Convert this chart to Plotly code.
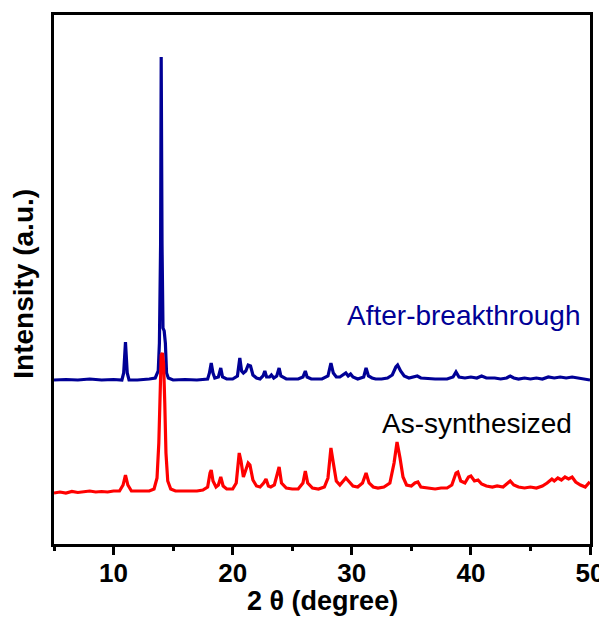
import plotly.graph_objects as go

# ---- data (2θ in degrees, intensity in arbitrary units) ----
after_x = [5.0, 6.0, 7.0, 8.0, 9.0, 10.0, 10.7, 10.85, 11.0, 11.15, 11.3, 12.0, 13.0, 13.5,
           13.75, 13.85, 13.95, 14.0, 14.07, 14.15, 14.25, 14.35, 14.45, 14.6, 15.0, 16.0,
           17.0, 17.9, 18.05, 18.2, 18.35, 18.5, 18.8, 19.0, 19.15, 19.5, 20.0, 20.4, 20.6,
           20.75, 20.9, 21.1, 21.3, 21.5, 21.7, 22.0, 22.3, 22.55, 22.7, 22.85, 23.1, 23.25,
           23.45, 23.7, 23.9, 24.05, 24.5, 25.0, 25.5, 25.9, 26.1, 26.25, 26.6, 27.0, 27.5,
           28.0, 28.25, 28.45, 28.7, 29.0, 29.3, 29.5, 29.7, 29.9, 30.1, 30.5, 31.0, 31.2,
           31.4, 31.7, 32.0, 32.5, 33.0, 33.4, 33.7, 33.85, 34.1, 34.4, 34.8, 35.2, 35.5,
           35.8, 36.5, 37.0, 37.5, 38.0, 38.5, 38.75, 39.0, 39.5, 40.0, 40.5, 40.9, 41.3,
           42.0, 42.5, 43.0, 43.3, 43.6, 44.0, 44.5, 45.0, 45.5, 46.0, 46.5, 47.0, 47.5,
           48.0, 48.5, 49.0, 49.5, 50.0]
after_y = [164, 164.5, 164, 165, 164, 164.5, 164, 171, 202, 171, 164, 164, 165, 166,
           173, 201, 300, 487, 300, 216, 213, 201, 171, 166, 164, 164.5,
           164, 165, 171, 181, 171, 166, 167, 176, 167, 165, 165, 168, 186,
           173, 171, 173, 179, 178, 169, 166, 165, 168, 173, 167, 167, 169,
           166, 168, 176, 168, 165, 165, 165, 167, 173, 167, 165, 165, 165,
           168, 181, 171, 167, 167, 169, 171, 168, 170, 167, 165, 167, 176,
           168, 166, 165, 165, 166, 169, 177, 179, 173, 168, 166, 167, 168,
           166, 165, 165, 165, 165, 167, 172, 167, 166, 167, 166, 168, 166,
           166, 165, 166, 168, 166, 165, 166, 165, 166, 165, 167, 166, 167,
           166, 167, 166, 165, 164]

as_x = [5.0, 5.5, 6.0, 6.5, 7.0, 7.5, 8.0, 8.5, 9.0, 9.5, 10.0, 10.5, 10.8, 11.0, 11.2,
        11.5, 12.0, 12.5, 13.0, 13.4, 13.65, 13.8, 13.9, 14.0, 14.1, 14.2, 14.3, 14.4,
        14.55, 14.8, 15.2, 16.0, 16.5, 17.0, 17.5, 17.9, 18.1, 18.2, 18.35, 18.6, 18.8,
        19.0, 19.2, 19.5, 20.0, 20.3, 20.55, 20.7, 20.9, 21.1, 21.3, 21.45, 21.7, 22.0,
        22.3, 22.6, 22.8, 23.0, 23.2, 23.5, 23.75, 23.9, 24.1, 24.5, 25.0, 25.5, 25.9,
        26.1, 26.3, 26.7, 27.2, 27.7, 28.0, 28.25, 28.45, 28.7, 29.0, 29.3, 29.5, 29.8,
        30.1, 30.5, 30.9, 31.2, 31.45, 31.8, 32.2, 32.7, 33.2, 33.55, 33.8, 34.05, 34.3,
        34.6, 35.0, 35.3, 35.55, 35.8, 36.3, 37.0, 37.5, 38.0, 38.4, 38.75, 38.9, 39.15,
        39.5, 39.8, 40.0, 40.3, 40.6, 40.9, 41.3, 41.8, 42.2, 42.7, 43.0, 43.3, 43.6,
        44.0, 44.5, 45.0, 45.5, 46.0, 46.4, 46.8, 47.0, 47.3, 47.6, 47.9, 48.2, 48.5,
        48.8, 49.2, 49.6, 49.9, 50.0]
as_y = [51, 52, 51, 52.5, 51.5, 52, 53, 52, 52.5, 52, 53, 53, 59, 69, 59,
        53, 53, 52.5, 53, 55, 66, 101, 161, 189, 191, 181, 141, 91,
        63, 55, 53, 53, 52.5, 53, 54, 57, 71, 74, 63, 57, 59,
        67, 58, 55, 55, 61, 91, 83, 67, 73, 81, 79, 64, 58,
        57, 61, 65, 58, 57, 59, 69, 77, 61, 56, 55, 55, 61,
        73, 61, 56, 55, 57, 66, 96, 81, 63, 59, 63, 66, 62,
        58, 57, 61, 71, 61, 57, 56, 57, 61, 81, 102, 86, 67,
        59, 58, 61, 62, 57, 56, 55, 56, 56, 59, 71, 72, 63,
        61, 67, 68, 63, 64, 60, 58, 57, 58, 57, 60, 63, 59,
        57, 56, 57, 56, 58, 61, 65, 63, 66, 64, 67, 65, 67,
        62, 59, 57, 61, 60]

x_ticks = [10, 20, 30, 40, 50]
x_minor = [5, 15, 25, 35, 45]
labels = ["After-breakthrough", "As-synthesized"]
colors = ["#000096", "#FF0000"]
x_title = "2 θ (degree)"
y_title = "Intensity (a.u.)"
FONT = "Liberation Sans, Arial"

fig = go.Figure()
fig.add_trace(go.Scatter(x=after_x, y=after_y, mode="lines", name=labels[0],
                         line=dict(color=colors[0], width=3.2)))
fig.add_trace(go.Scatter(x=as_x, y=as_y, mode="lines", name=labels[1],
                         line=dict(color=colors[1], width=3.2)))

fig.add_annotation(x=39.35, y=229, xref="x", yref="y", text=labels[0], showarrow=False,
                   font=dict(family=FONT, size=28, color=colors[0]),
                   xanchor="center", yanchor="middle")
fig.add_annotation(x=40.55, y=121, xref="x", yref="y", text=labels[1], showarrow=False,
                   font=dict(family=FONT, size=28, color="black"),
                   xanchor="center", yanchor="middle")
# axis titles
fig.add_annotation(x=0.5, y=-0.108, xref="paper", yref="paper", text=x_title, showarrow=False,
                   font=dict(family=FONT, size=27, weight="bold", color="black"),
                   xanchor="center", yanchor="middle")
fig.add_annotation(x=-0.0575, y=0.4924, xref="paper", yref="paper", text=y_title, showarrow=False,
                   textangle=-90,
                   font=dict(family=FONT, size=28, weight="bold", color="black"),
                   xanchor="center", yanchor="middle")

# the page puts the figure 8 px in from the top-left corner
fig.update_layout(
    width=599, height=614,
    margin=dict(l=46, r=17, t=7, b=78, autoexpand=False),
    plot_bgcolor="white", paper_bgcolor="white",
    showlegend=False,
    font=dict(family=FONT, color="black"),
)
fig.update_xaxes(
    range=[5, 50], tickvals=x_ticks, ticktext=[str(v) for v in x_ticks],
    showgrid=False, zeroline=False, automargin=False,
    showline=True, linecolor="black", linewidth=3, mirror=True,
    ticks="outside", ticklen=8, tickwidth=2.5, tickcolor="black",
    ticklabelstandoff=-4,
    minor=dict(tickvals=x_minor, ticks="outside", ticklen=4, tickwidth=2.5,
               tickcolor="black", showgrid=False),
    tickfont=dict(family=FONT, size=26, weight="bold", color="black"),
)
fig.update_yaxes(
    range=[0, 529], showticklabels=False, ticks="",
    showgrid=False, zeroline=False, automargin=False,
    showline=True, linecolor="black", linewidth=3, mirror=True,
)

fig.write_html("out.html")
